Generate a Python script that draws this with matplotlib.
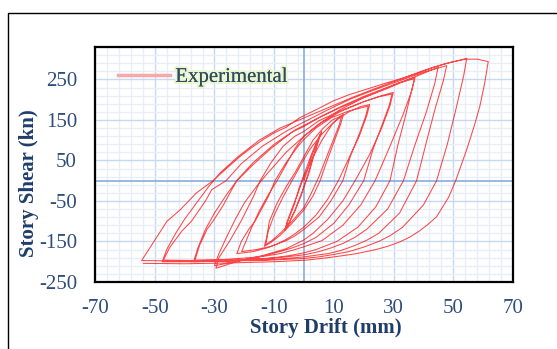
import matplotlib
matplotlib.use("Agg")
import matplotlib.pyplot as plt
import matplotlib.patheffects as pe
from matplotlib.lines import Line2D
from matplotlib.patches import Rectangle
from matplotlib.ticker import FixedLocator
import numpy as np

plt.rcParams['font.family'] = ['Liberation Serif', 'DejaVu Serif']
plt.rcParams['axes.unicode_minus'] = False

# hysteresis record, split by drift stage (each stage starts where the last one ended)
drift_6 = [0, 1.5, 3, 4.5, 5.5,
           4.8, 3, 1, -1, -3, -5, -6.2,
           -5.2, -3.2, -1.5, 0.5, 2.5, 4.5, 5.9,
           5.1, 3.3, 1.5, -0.8, -3, -5.2, -6.4]
shear_6 = [0, 35, 70, 98, 115,
           100, 58, 8, -38, -74, -104, -118,
           -96, -58, -15, 25, 65, 100, 121,
           104, 62, 15, -30, -72, -108, -122]

drift_13 = [-5.6, -4, -2, 0, 3, 6, 9.5, 12, 13.2,
            12.3, 10, 7.5, 5.4, 3, 0, -4, -8, -11, -13.3,
            -12.5, -11.6, -9, -6, -3, 0, 3, 6.2, 9.5, 12.6,
            11.8, 9.5, 7, 5, 2.5, 0, -4, -8, -10.8, -12.8]
shear_13 = [-100, -68, -30, 10, 58, 100, 140, 158, 164,
            140, 95, 45, 0, -38, -72, -105, -135, -152, -162,
            -140, -100, -55, -15, 20, 60, 100, 128, 150, 160,
            138, 95, 48, 10, -30, -66, -100, -130, -148, -158]

drift_22 = [-12, -10, -7, -4, -1, 2, 6, 10, 15, 19, 22,
            21, 18.5, 15, 11.5, 8, 4, 0, -3, -6, -9, -12, -17, -22.5,
            -21, -18.5, -16.4, -12, -9.7, -6, -2, 0, 4, 9, 15, 21.5,
            20.6, 18.5, 15.5, 13, 9, 5, 0, -3, -6, -11, -16, -20.9]
shear_22 = [-125, -85, -40, 0, 40, 78, 115, 145, 170, 183, 188,
            160, 110, 55, 0, -45, -85, -114, -131, -145, -156, -165, -175, -180,
            -150, -120, -100, -40, 0, 45, 85, 102, 130, 155, 172, 184,
            158, 115, 60, 0, -50, -90, -120, -136, -148, -162, -170, -175]

drift_30 = [-19.5, -17.5, -15, -12, -9, -6, -3, 0, 5, 12, 20, 26, 29.9,
            28.8, 26, 22, 17.1, 13, 8, 3, 0, -6, -14, -22, -26, -29.5,
            -28.5, -25, -21.1, -17, -14.7, -11, -7, -3, 0, 5, 12, 20, 25, 29.5,
            28.5, 26, 23, 20, 15, 10, 4, 0, -4, -8, -16, -23, -30]
shear_30 = [-150, -115, -75, -35, 0, 40, 80, 110, 140, 170, 195, 210, 218,
            185, 130, 65, 0, -50, -95, -130, -146, -168, -185, -198, -208, -216,
            -190, -150, -100, -40, 0, 45, 85, 110, 122, 148, 172, 195, 207, 214,
            185, 135, 75, 0, -60, -105, -140, -155, -166, -175, -190, -200, -210]

drift_37 = [-28.5, -26, -23, -20, -16, -12, -6, 0, 6, 12, 20, 28, 33, 37.2,
            36, 33, 28.5, 23.8, 19, 13, 6, 0, -4, -8, -13, -18, -28, -36.5,
            -35, -32.5, -30.5, -27, -24.2, -22.5, -17, -11, -4, 0, 6, 13, 20, 27, 32, 37,
            35.8, 34, 31.5, 28.8, 24, 18, 11, 4, 0, -5, -10, -20, -30, -37]
shear_37 = [-180, -140, -95, -55, -15, 20, 70, 110, 145, 175, 205, 230, 245, 255,
            220, 160, 80, 0, -60, -110, -148, -163, -172, -180, -186, -190, -195, -196,
            -160, -120, -100, -60, -22, 0, 40, 80, 120, 134, 160, 185, 208, 228, 242, 252,
            215, 160, 90, 0, -65, -115, -150, -170, -178, -185, -190, -196, -199, -200]

drift_47 = [-35.5, -33, -30, -26, -22, -17, -10, -3, 4, 12, 20, 28, 35, 41, 44.9,
            43.8, 41, 37, 33.3, 28, 21, 17, 13, 9, 5, 0, -6, -12, -25, -36, -47.1,
            -45, -41, -37.7, -33, -30.9, -26.1, -21, -14, -6, 0, 8, 16, 25, 34, 41, 47.8,
            46.6, 44, 41.5, 37.7, 32, 25, 21, 17, 12.5, 8, 0, -6, -12, -25, -37, -47.5]
shear_47 = [-165, -120, -80, -35, 5, 45, 90, 125, 152, 180, 205, 228, 250, 268, 280,
            240, 170, 85, 0, -70, -120, -140, -155, -166, -175, -183, -188, -192, -196, -197, -196,
            -165, -125, -100, -50, -22, 0, 42, 85, 122, 145, 175, 203, 228, 252, 270, 284,
            245, 180, 110, 0, -80, -130, -147, -160, -172, -180, -188, -192, -195, -198, -200, -200]

drift_55 = [-46, -43, -40, -36, -32, -28, -22, -15, -8, 0, 8, 16, 24, 32, 40, 47, 54.5,
            53.5, 51, 48, 44.4, 40, 33, 29, 25, 20, 15, 10, 5, 0, -15, -30, -45, -54.4,
            -52, -48.5, -45.9, -41.5, -36, -30.5, -26, -21.4, -17.5, -13.6, -10, -6, -1.3, 4, 9.8,
            15, 21, 27, 32.1, 38, 43.3, 49, 54.2, 58, 61.7,
            60.5, 58.9, 57, 54.5, 52.5, 50.8, 48.5, 44.4, 41.5, 38.5, 35.5, 32.1, 28, 24, 17.6,
            12, 8, 0.9, -10, -25, -40, -53.8]
shear_55 = [-170, -130, -95, -55, -15, 20, 60, 100, 130, 155, 180, 205, 228, 250, 272, 288, 302,
            260, 180, 90, 0, -60, -115, -135, -150, -164, -175, -182, -188, -192, -197, -198, -198, -197,
            -170, -130, -100, -72, -30, 0, 30, 60, 82, 102, 118, 132, 156, 175, 197,
            212, 226, 240, 251, 265, 280, 292, 300, 300, 294,
            240, 184, 135, 77, 35, 0, -40, -89, -108, -125, -139, -151, -162, -170, -180,
            -186, -190, -196, -200, -203, -205, -204]

x_ticks = [-70, -50, -30, -10, 10, 30, 50, 70]
y_ticks = [-250, -150, -50, 50, 150, 250]

drift = np.concatenate([drift_6, drift_13, drift_22, drift_30, drift_37, drift_47, drift_55])
shear = np.concatenate([shear_6, shear_13, shear_22, shear_30, shear_37, shear_47, shear_55])

fig = plt.figure(figsize=(5.57, 3.49), dpi=100)
ax = fig.add_axes([0.1706, 0.192, 0.7504, 0.6733])

# outer frame around the chart
fig.add_artist(Rectangle((0.0144, -0.2), 1.5, 0.9628 + 0.2, transform=fig.transFigure,
                         fill=False, edgecolor='black', lw=1.0))

ax.plot(drift, shear, color='red', lw=0.75, alpha=0.72, zorder=3)

ax.set_xlim(-70, 70)
ax.set_ylim(-250, 330)
ax.set_xticks(x_ticks)
ax.set_yticks(y_ticks)
ax.xaxis.set_minor_locator(FixedLocator(np.arange(-70, 71, 4)))
ax.yaxis.set_minor_locator(FixedLocator(np.arange(-250, 331, 20)))
ax.grid(which='minor', color='#e6eef8', lw=1.0, zorder=0)
ax.grid(which='major', color='#c6d9f1', lw=1.0, zorder=1)
ax.set_axisbelow(True)
ax.axvline(0, color='#8db3e2', lw=1.3, zorder=2)
ax.axhline(0, color='#8db3e2', lw=1.3, zorder=2)

for s in ax.spines.values():
    s.set_color('black')
    s.set_linewidth(1.6)
    s.set_zorder(5)

ax.tick_params(which='both', length=0)
ax.tick_params(axis='x', pad=12, labelsize=15, labelcolor='#2e4d7b')
ax.tick_params(axis='y', pad=13, labelsize=15, labelcolor='#2e4d7b')

ax.set_xlabel('Story Drift (mm)', fontsize=15, fontweight='bold', color='#1f3d6b')
ax.set_ylabel('Story Shear (kn)', fontsize=15, fontweight='bold', color='#1f3d6b')
ax.xaxis.set_label_coords(0.553, -0.155)
ax.yaxis.set_label_coords(-0.135, 0.42)

handle = Line2D([], [], color='#f7a8a8', lw=2.5)
leg = ax.legend([handle], ['Experimental'], loc='center left', bbox_to_anchor=(0.055, 0.872),
                frameon=False, fontsize=15, handlelength=2.5, handletextpad=0.25,
                borderpad=0, borderaxespad=0)
for t in leg.get_texts():
    t.set_color('#2f4b5e')
    t.set_path_effects([pe.withStroke(linewidth=3, foreground='#eaf5d2'), pe.Normal()])

fig.savefig('out.png', dpi=100)
